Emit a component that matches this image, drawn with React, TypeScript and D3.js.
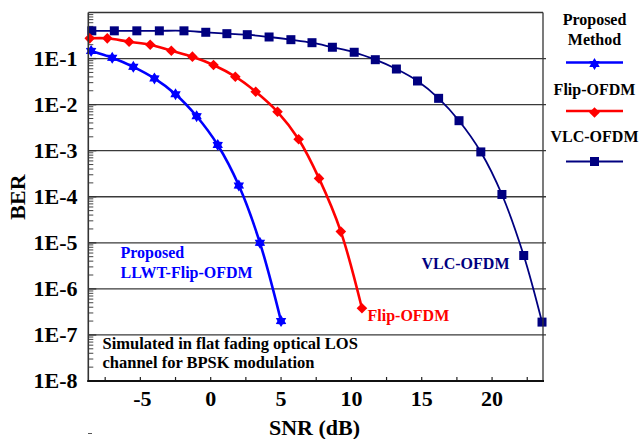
import React from "react";
import * as d3 from "d3";

// SNR (dB) and BER for each scheme
const proposedSnr = [-8.5, -7, -5.5, -4, -2.5, -1, 0.5, 2, 3.5, 5];
const proposedBer = [0.146, 0.104, 0.066, 0.037, 0.0168, 0.0056, 0.00133, 1.75e-4, 1.0e-5, 2.0e-7];

const flipSnr = [-8.6, -7.35, -5.8, -4.3, -2.8, -1.3, 0.2, 1.75, 3.2, 4.75, 6.25, 7.7, 9.25, 10.75];
const flipBer = [0.275, 0.275, 0.232, 0.2, 0.148, 0.11, 0.0725, 0.0404, 0.0191, 0.007, 0.00177, 2.5e-4, 1.75e-5, 3.8e-7];

const vlcSnr = [-8.45, -6.85, -5.25, -3.65, -1.9, -0.35, 1.15, 2.6, 4.15, 5.7, 7.2, 8.65, 10.2, 11.7, 13.2, 14.7, 16.2, 17.65, 19.2, 20.7, 22.25, 23.55];
const vlcBer = [0.4, 0.4, 0.4, 0.4, 0.4, 0.372, 0.347, 0.33, 0.294, 0.257, 0.221, 0.176, 0.137, 0.0945, 0.0593, 0.0326, 0.0137, 0.00448, 9.4e-4, 1.12e-4, 5.3e-6, 1.9e-7];

const xTickValues = [-5, 0, 5, 10, 15, 20];
const xMinorTicks = [-7.5, -2.5, 2.5, 7.5, 12.5, 17.5, 22.5];
const yTickValues = [1e-1, 1e-2, 1e-3, 1e-4, 1e-5, 1e-6, 1e-7, 1e-8];
const yTickLabels = ["1E-1", "1E-2", "1E-3", "1E-4", "1E-5", "1E-6", "1E-7", "1E-8"];

const legendNames = ["Proposed Method", "Flip-OFDM", "VLC-OFDM"];

const BLUE = "#0000ff";
const RED = "#ff0000";
const NAVY = "#000080";
const FONT = "'Liberation Serif', 'Times New Roman', serif";

const W = 639;
const H = 439;
const left = 88.3;
const right = 543;
const top = 12.5;
const bottom = 381;

const x = d3.scaleLinear().domain([-8.7, 23.62]).range([left, right]);
const y = d3.scaleLog().domain([1e-8, 1]).range([bottom, top]);

function starPath(r: number): string {
  const pts: string[] = [];
  for (let i = 0; i < 12; i++) {
    const a = (Math.PI / 6) * i - Math.PI / 2;
    const rr = i % 2 === 0 ? r : r * 0.6;
    pts.push(`${(rr * Math.cos(a)).toFixed(2)},${(rr * Math.sin(a)).toFixed(2)}`);
  }
  return "M" + pts.join("L") + "Z";
}

function diamondPath(r: number): string {
  return `M0,${-r}L${r},0L0,${r}L${-r},0Z`;
}

type Marker = "star" | "diamond" | "square";

function MarkerShape({ kind, color, cx, cy }: { kind: Marker; color: string; cx: number; cy: number }) {
  if (kind === "square") {
    return <rect x={cx - 4.5} y={cy - 4.5} width={9} height={9} fill={color} />;
  }
  const d = kind === "star" ? starPath(6) : diamondPath(5.3);
  return <path d={d} transform={`translate(${cx},${cy})`} fill={color} />;
}

function Series({ snr, ber, color, width, kind }: { snr: number[]; ber: number[]; color: string; width: number; kind: Marker }) {
  const pts: [number, number][] = snr.map((s, i) => [s, ber[i]]);
  const line = d3
    .line<[number, number]>()
    .x((d) => x(d[0]))
    .y((d) => y(d[1]))
    .curve(d3.curveCatmullRom.alpha(0.5));
  return (
    <g>
      <path d={line(pts) || ""} fill="none" stroke={color} strokeWidth={width} strokeLinejoin="round" />
      {pts.map((p, i) => (
        <MarkerShape key={i} kind={kind} color={color} cx={x(p[0])} cy={y(p[1])} />
      ))}
    </g>
  );
}

export default function App() {
  const minorY: number[] = [];
  for (let e = -8; e < 0; e++) {
    for (let k = 2; k <= 9; k++) minorY.push(k * Math.pow(10, e));
  }
  const legendY = [62.5, 111, 161.5];
  const legendColors = [BLUE, RED, NAVY];
  const legendKinds: Marker[] = ["star", "diamond", "square"];
  const lx0 = 566;
  const lx1 = 623;
  const lcx = 594.5;

  return (
    <svg
      width={W}
      height={H}
      viewBox={`0 0 ${W} ${H}`}
      style={{ position: "absolute", left: 0, top: 0, background: "#fff" }}
      fontFamily={FONT}
      fontWeight="bold"
    >
      <rect x={0} y={0} width={W} height={H} fill="#fff" />

      {/* decade grid lines */}
      {yTickValues.slice(0, 7).map((v) => (
        <line key={v} x1={left} x2={546} y1={y(v)} y2={y(v)} stroke="#3a3a3a" strokeWidth={1.3} />
      ))}

      {/* minor log ticks on the left axis */}
      {minorY.map((v, i) => (
        <line key={i} x1={left} x2={left + 5} y1={y(v)} y2={y(v)} stroke="#444" strokeWidth={1} />
      ))}
      {yTickValues.map((v) => (
        <line key={"m" + v} x1={left} x2={left + 8} y1={y(v)} y2={y(v)} stroke="#333" strokeWidth={1.3} />
      ))}

      {/* x ticks */}
      {[...xTickValues, ...xMinorTicks].map((v) => (
        <line key={"x" + v} x1={x(v)} x2={x(v)} y1={bottom} y2={bottom - 4} stroke="#222" strokeWidth={1.2} />
      ))}

      <Series snr={vlcSnr} ber={vlcBer} color={NAVY} width={1.8} kind="square" />
      <Series snr={flipSnr} ber={flipBer} color={RED} width={2.6} kind="diamond" />
      <Series snr={proposedSnr} ber={proposedBer} color={BLUE} width={2.6} kind="star" />

      {/* frame */}
      <line x1={left} x2={right} y1={top} y2={top} stroke="#333" strokeWidth={1.3} />
      <line x1={right} x2={right} y1={top} y2={bottom} stroke="#333" strokeWidth={1.3} />
      <line x1={left} x2={left} y1={top} y2={bottom + 1} stroke="#333" strokeWidth={1.6} />
      <line x1={left - 1} x2={right + 1} y1={bottom} y2={bottom} stroke="#111" strokeWidth={2} />

      {/* y tick labels */}
      {yTickValues.map((v, i) => (
        <text key={"yl" + v} x={77.5} y={y(v) + 7} textAnchor="end" fontSize={22} fill="#000">
          {yTickLabels[i]}
        </text>
      ))}

      {/* x tick labels */}
      {xTickValues.map((v) => (
        <text key={"xl" + v} x={x(v) + (v < 0 ? 2 : 0)} y={406} textAnchor="middle" fontSize={22} fill="#000">
          {v < 0 ? `-${Math.abs(v)}` : `${v}`}
        </text>
      ))}

      <text x={314.5} y={435} textAnchor="middle" fontSize={22} fill="#000">
        SNR (dB)
      </text>
      <text transform="translate(25,197) rotate(-90)" textAnchor="middle" fontSize={22} fill="#000">
        BER
      </text>
      <line x1={88} x2={92} y1={433.5} y2={433.5} stroke="#555" strokeWidth={1} />

      {/* curve annotations */}
      <text x={120.5} y={257.5} fontSize={16} fill={BLUE}>
        Proposed
      </text>
      <text x={120.5} y={277.5} fontSize={16} fill={BLUE}>
        LLWT-Flip-OFDM
      </text>
      <text x={367.5} y={321} fontSize={16} fill={RED}>
        Flip-OFDM
      </text>
      <text x={421.5} y={268.5} fontSize={16} fill={NAVY}>
        VLC-OFDM
      </text>
      <text x={102.5} y={349.3} fontSize={16.5} fill="#000">
        Simulated in flat fading optical LOS
      </text>
      <text x={102.5} y={368.3} fontSize={16.5} fill="#000">
        channel for BPSK modulation
      </text>

      {/* legend */}
      <text x={lcx} y={25} textAnchor="middle" fontSize={16} fill="#000">
        Proposed
      </text>
      <text x={lcx} y={45} textAnchor="middle" fontSize={16} fill="#000">
        Method
      </text>
      <text x={lcx} y={95} textAnchor="middle" fontSize={16} fill="#000">
        {legendNames[1]}
      </text>
      <text x={lcx} y={142} textAnchor="middle" fontSize={16} fill="#000">
        {legendNames[2]}
      </text>
      {legendY.map((ly, i) => (
        <g key={"lg" + i}>
          <line x1={lx0} x2={lx1} y1={ly} y2={ly} stroke={legendColors[i]} strokeWidth={i === 2 ? 2 : 2.6} />
          <MarkerShape kind={legendKinds[i]} color={legendColors[i]} cx={lcx} cy={ly + (i === 2 ? 0 : 1.5)} />
        </g>
      ))}
    </svg>
  );
}
